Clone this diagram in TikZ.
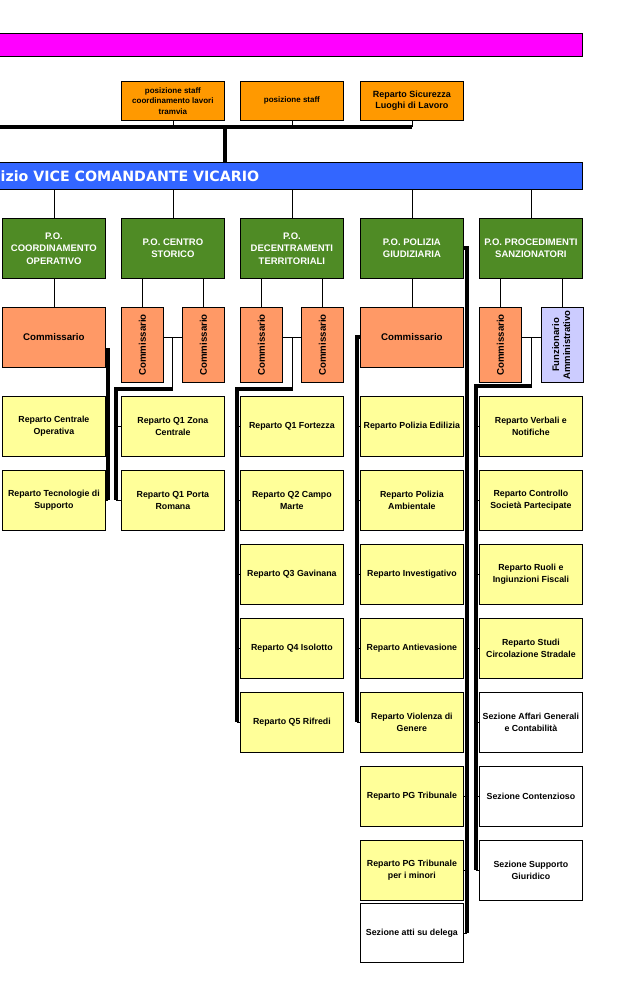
\documentclass[tikz,border=0pt]{standalone}
\usepackage{fontspec}
\setmainfont{Liberation Sans}
\newfontfamily\vicefont{DejaVu Sans}
\definecolor{topmag}{HTML}{FF00FF}
\definecolor{staffor}{HTML}{FF9900}
\definecolor{viceblue}{HTML}{3366FF}
\definecolor{pogreen}{HTML}{4F8B25}
\definecolor{commsalmon}{HTML}{FF9966}
\definecolor{funzlilac}{HTML}{CCCCFF}
\definecolor{repyellow}{HTML}{FFFF99}
\begin{document}
\begin{tikzpicture}[x=1pt,y=-1pt,line join=miter,
	box/.style={draw=black,line width=.8pt,anchor=north west,align=center,inner sep=1pt,font=\bfseries\fontsize{8.8}{11.8}\selectfont},
	staff/.style={box,fill=staffor,minimum width=103pt,minimum height=39pt,font=\bfseries\fontsize{8}{10.5}\selectfont},
	po/.style={box,fill=pogreen,text=white,minimum width=103pt,minimum height=60pt,font=\bfseries\fontsize{9.5}{12.5}\selectfont},
	comm/.style={box,fill=commsalmon,minimum width=103pt,minimum height=60pt,font=\bfseries\fontsize{9.7}{11}\selectfont},
	commtall/.style={comm,minimum width=42pt,minimum height=75pt},
	rep/.style={box,fill=repyellow,minimum width=103pt,minimum height=60pt},
	link/.style={line width=.8pt},
	spine/.style={line width=4pt}]
	\useasboundingbox (0,0) rectangle (619,986);
	\draw[fill=topmag,line width=.8pt] (-3,33) rectangle (582,56);
	% staff
	\node[staff] (st1) at (121,81) {posizione staff\\coordinamento lavori\\tramvia};
	\node[staff] (st2) at (240,81) {posizione staff};
	\node[staff,font=\bfseries\fontsize{9}{11.5}\selectfont] (st3) at (360,81) {Reparto Sicurezza\\Luoghi di Lavoro};
	\node[box,fill=viceblue,minimum width=585pt,minimum height=27pt] (vice) at (-3,162) {};
	\node[anchor=west,inner sep=0pt,text=white,font=\vicefont\bfseries\fontsize{14.2}{16}\selectfont] (vicet) at (0.5,176) {izio VICE COMANDANTE VICARIO};
	\coordinate (bus) at (225,127);
	\coordinate (busw) at (-4,127);
	\foreach \s in {1,2,3}
	\draw[link] (st\s.south) -- (st\s.south |- bus);
	\draw[spine,line width=4.5pt] (busw) -- (bus -| st3.south);
	\draw[spine,line width=4.5pt] (bus) -- (bus |- vice.north);
	% P.O.
	\node[po] (g1) at (2,218) {P.O.\\COORDINAMENTO\\OPERATIVO};
	\node[po] (g2) at (121,218) {P.O. CENTRO\\STORICO};
	\node[po] (g3) at (240,218) {P.O.\\DECENTRAMENTI\\TERRITORIALI};
	\node[po] (g4) at (360,218) {P.O. POLIZIA\\GIUDIZIARIA};
	\node[po] (g5) at (479,218) {P.O. PROCEDIMENTI\\SANZIONATORI};
	\foreach \c in {1,...,5}
	\draw[link] (g\c.north) -- (g\c.north |- vice.south);
	% commissari
	\node[comm] (c1) at (2,307) {Commissario};
	\node[commtall] (c2a) at (121,307) {\rotatebox{90}{Commissario}};
	\node[commtall] (c2b) at (182,307) {\rotatebox{90}{Commissario}};
	\node[commtall] (c3a) at (240,307) {\rotatebox{90}{Commissario}};
	\node[commtall] (c3b) at (301,307) {\rotatebox{90}{Commissario}};
	\node[comm] (c4) at (360,307) {Commissario};
	\node[commtall] (c5a) at (479,307) {\rotatebox{90}{Commissario}};
	\node[commtall,fill=funzlilac,font=\bfseries\fontsize{9.5}{11}\selectfont] (c5b) at (541,307) {\rotatebox{90}{\begin{tabular}{@{}c@{}}Funzionario\\Amministrativo\end{tabular}}};
	\draw[link] (g1.south) -- (c1.north);
	\draw[link] (g4.south) -- (c4.north);
	\foreach \c in {2,3,5}
	\foreach \s in {a,b}
	\draw[link] (c\c\s.north) -- (c\c\s.north |- g\c.south);
	% reparti
	\foreach \t [count=\k] in {Reparto Centrale\\Operativa,Reparto Tecnologie di\\Supporto}
	\node[rep] (r1\k) at (2,{396+74*(\k-1)}) {\t};
	\foreach \t [count=\k] in {Reparto Q1 Zona\\Centrale,Reparto Q1 Porta\\Romana}
	\node[rep] (r2\k) at (121,{396+74*(\k-1)}) {\t};
	\foreach \t [count=\k] in {Reparto Q1 Fortezza,Reparto Q2 Campo\\Marte,Reparto Q3 Gavinana,Reparto Q4 Isolotto,Reparto Q5 Rifredi}
	\node[rep] (r3\k) at (240,{396+74*(\k-1)}) {\t};
	\foreach \t [count=\k] in {Reparto Polizia Edilizia,Reparto Polizia\\Ambientale,Reparto Investigativo,Reparto Antievasione,Reparto Violenza di\\Genere,Reparto PG Tribunale,Reparto PG Tribunale\\per i minori}
	\node[rep] (r4\k) at (360,{396+74*(\k-1)}) {\t};
	\node[rep,fill=white,minimum height=59pt] (r48) at (360,903) {Sezione atti su delega};
	\foreach \t/\f [count=\k] in {Reparto Verbali e\\Notifiche/repyellow,Reparto Controllo\\Società Partecipate/repyellow,Reparto Ruoli e\\Ingiunzioni Fiscali/repyellow,Reparto Studi\\Circolazione Stradale/repyellow,Sezione Affari Generali\\e Contabilità/white,Sezione Contenzioso/white,Sezione Supporto\\Giuridico/white}
	\node[rep,fill=\f] (r5\k) at (479,{396+74*(\k-1)}) {\t};
	% col 1
	\coordinate (s1) at (108,350);
	\draw[spine] (s1 -| c1.east) -- (s1) -- (s1 |- r12.east);
	\foreach \k in {1,2}
	\draw[link] (s1 |- r1\k.east) -- (r1\k.east);
	% col 2
	\coordinate (p2) at ([yshift=7.5pt]c2a.east);
	\coordinate (j2) at (172,389);
	\coordinate (s2) at (116,389);
	\draw[link] (p2) -- (p2 -| c2b.west);
	\draw[link] (j2 |- p2) -- (j2);
	\draw[spine] ([xshift=1pt]j2) -- (s2) -- (s2 |- r22.west);
	\foreach \k in {1,2}
	\draw[link] (s2 |- r2\k.west) -- (r2\k.west);
	% col 3
	\coordinate (p3) at ([yshift=7.5pt]c3a.east);
	\coordinate (j3) at (292,389);
	\coordinate (s3) at (237,389);
	\draw[link] (p3) -- (p3 -| c3b.west);
	\draw[link] (j3 |- p3) -- (j3);
	\draw[spine] ([xshift=1pt]j3) -- (s3) -- (s3 |- r35.west);
	\foreach \k in {1,...,5}
	\draw[link] (s3 |- r3\k.west) -- (r3\k.west);
	% col 4
	\coordinate (s4) at (357,337);
	\draw[spine] (c4.west) -- (s4 |- c4.west) -- (s4 |- r45.west);
	\foreach \k in {1,...,5}
	\draw[link] (s4 |- r4\k.west) -- (r4\k.west);
	\coordinate (t4) at (467,248);
	\draw[spine] (g4.east) -- (t4 |- g4.east) -- (t4 |- r48.east);
	\foreach \k in {6,7,8}
	\draw[link] (t4 |- r4\k.east) -- (r4\k.east);
	% col 5
	\coordinate (p5) at ([yshift=7.5pt]c5a.east);
	\coordinate (j5) at (531,386);
	\coordinate (s5) at (476,386);
	\draw[link] (p5) -- (p5 -| c5b.west);
	\draw[link] (j5 |- p5) -- (j5);
	\draw[spine] ([xshift=1pt]j5) -- (s5) -- (s5 |- r57.west);
	\foreach \k in {1,...,7}
	\draw[link] (s5 |- r5\k.west) -- (r5\k.west);
\end{tikzpicture}
\end{document}
